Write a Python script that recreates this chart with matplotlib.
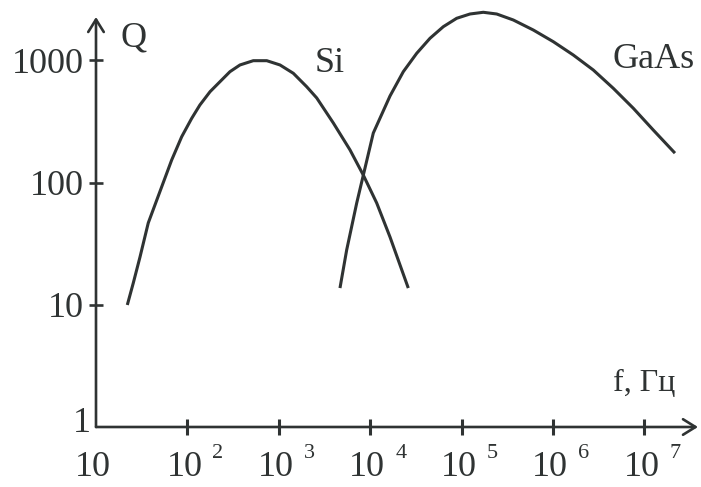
import numpy as np
import matplotlib
matplotlib.use("Agg")
import matplotlib.pyplot as plt
from matplotlib.transforms import ScaledTranslation

# ---- data ----
si_f = [22.0, 25.6, 30.3, 37.3, 52.4, 67.3, 86.6, 111.4, 137, 177, 227, 292, 376,
        526, 738, 1031, 1442, 2019, 2600, 3950, 6010, 8410, 11780, 16480, 26100]
si_q = [9.96, 15.1, 24.6, 46.7, 92.5, 152.9, 237, 335, 431, 554, 668, 807, 916,
        993, 993, 916, 783, 608, 492, 307, 185, 115, 68, 35.8, 13.7]

gaas_f = [4670, 5530, 7120, 8410, 10810, 16480, 23020, 32270, 45100, 63070, 88370,
          123600, 172700, 242100, 368000, 608500, 1.008e6, 1.667e6, 2.76e6,
          4.57e6, 7.57e6, 1.25e7, 2.16e7]
gaas_q = [13.7, 28.1, 68, 115, 254, 511, 807, 1141, 1514, 1884, 2207,
          2393, 2471, 2393, 2137, 1770, 1420, 1105, 833,
          590, 405, 269, 174]

x_ticks = [10, 1e2, 1e3, 1e4, 1e5, 1e6, 1e7]
x_exponents = ["", "2", "3", "4", "5", "6", "7"]
y_ticks = [1, 10, 100, 1000]
y_labels = ["1", "10", "100", "1000"]

INK = "#2f3333"
SERIF = ["Liberation Serif", "DejaVu Serif"]
plt.rcParams["font.family"] = SERIF

W, H = 701, 487
fig = plt.figure(figsize=(W / 100, H / 100), dpi=100)
ax_l, ax_r, ax_b, ax_t = 96, 700, 427, 8
ax = fig.add_axes([ax_l / W, (H - ax_b) / H, (ax_r - ax_l) / W, (ax_b - ax_t) / H])
ax.set_xscale("log")
ax.set_yscale("log")
dec_x = 91.4
dec_y = 122.23
ax.set_xlim(10, 10 ** (1 + (ax_r - ax_l) / dec_x))
ax.set_ylim(1, 10 ** ((ax_b - ax_t) / dec_y))
for s in ax.spines.values():
    s.set_visible(False)
ax.minorticks_off()

# curves
ax.plot(si_f, si_q, color=INK, lw=2.2, solid_joinstyle="round",
        solid_capstyle="butt", clip_on=False)
ax.plot(gaas_f, gaas_q, color=INK, lw=2.2, solid_joinstyle="round",
        solid_capstyle="butt", clip_on=False)

# axes with arrows
yt = (ax_b - 17) / (ax_b - ax_t)
xt = (698 - ax_l) / (ax_r - ax_l)
arrow = dict(arrowstyle="->,head_length=0.45,head_width=0.28", color=INK,
             lw=1.9, shrinkA=0, shrinkB=0, mutation_scale=20)
ax.annotate("", xy=(0, yt), xytext=(0, 0), xycoords="axes fraction",
            arrowprops=arrow, annotation_clip=False)
ax.annotate("", xy=(xt, 0), xytext=(0, 0), xycoords="axes fraction",
            arrowprops=arrow, annotation_clip=False)

# ticks
ax.set_xticks(x_ticks)
ax.set_xticklabels(["10"] * len(x_ticks))
ax.set_yticks(y_ticks)
ax.set_yticklabels(y_labels)
ax.tick_params(axis="x", direction="inout", length=12, width=2.2, color=INK,
               labelsize=26, labelcolor=INK, pad=11)
ax.tick_params(axis="y", direction="inout", length=10, width=1.9, color=INK,
               labelsize=26, labelcolor=INK, pad=4)
ax.xaxis.get_major_ticks()[0].tick1line.set_visible(False)
ax.yaxis.get_major_ticks()[0].tick1line.set_visible(False)
for lab in ax.get_xticklabels():
    lab.set_transform(lab.get_transform() + ScaledTranslation(-3 / 100, 0, fig.dpi_scale_trans))
ylabs = ax.get_yticklabels()
ylabs[0].set_transform(ylabs[0].get_transform() + ScaledTranslation(7 / 100, 8 / 100, fig.dpi_scale_trans))

# exponents of the x tick labels
for xv, e in zip(x_ticks, x_exponents):
    if e:
        ax.annotate(e, xy=(xv, 1), xycoords="data", xytext=(25 / 100 * 72, -31 / 100 * 72),
                    textcoords="offset points", ha="left", va="baseline",
                    fontsize=16, color=INK, annotation_clip=False)

def ftext(px, py, s, size):
    fig.text(px / W, 1 - py / H, s, fontsize=size, color=INK, ha="left", va="baseline")

ftext(120, 46, "Q", 26)
ftext(315, 72, "Si", 26)
ftext(612, 68, "GaAs", 26)
ftext(613, 391, "f, Гц", 23)

fig.savefig("out.png", dpi=100, facecolor="white")
